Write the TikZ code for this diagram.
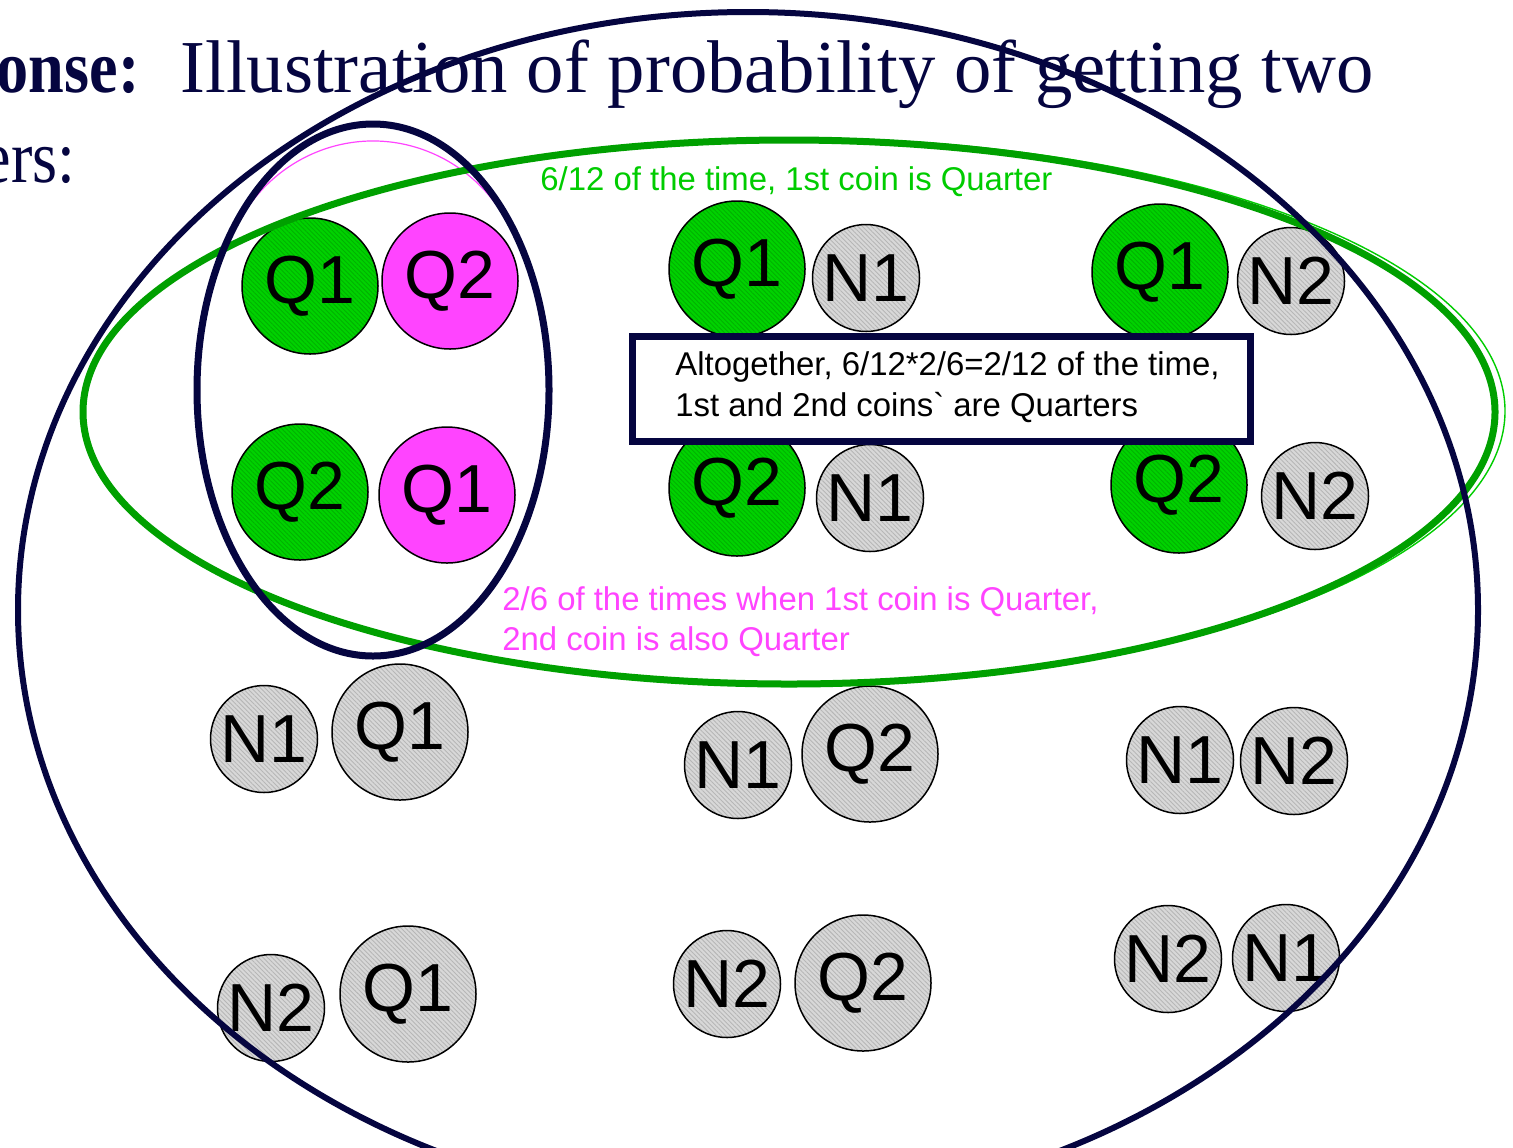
\documentclass[tikz,border=0pt]{standalone}
\usepackage{fontspec}
\setmainfont{Liberation Serif}
\newfontfamily\sansT{Liberation Sans}
\usetikzlibrary{patterns.meta}
\definecolor{navy}{RGB}{5,5,64}
\definecolor{gEll}{RGB}{0,160,0}
\definecolor{gThin}{RGB}{0,205,0}
\definecolor{gTxt}{RGB}{0,204,0}
\definecolor{gCoin}{RGB}{0,210,0}
\definecolor{gHatch}{RGB}{0,178,0}
\definecolor{mag}{RGB}{255,68,255}
\definecolor{grCoin}{RGB}{216,216,216}
\definecolor{grHatch}{RGB}{182,182,182}
\begin{document}
\begin{tikzpicture}[x=0.5pt,y=-0.5pt,
  coin/.style={circle,draw=black,line width=0.75pt,inner sep=0pt,
    font=\sansT\fontsize{34}{34}\selectfont},
  qc/.style={coin,minimum size=68pt},
  nc/.style={coin,minimum size=53.5pt},
  gc/.style={preaction={fill=gCoin},pattern={Lines[angle=-45,distance=1.6pt,line width=0.45pt]},pattern color=gHatch},
  sc/.style={preaction={fill=grCoin},pattern={Lines[angle=-45,distance=1.6pt,line width=0.45pt]},pattern color=grHatch},
  mc/.style={fill=mag},
  title/.style={inner sep=0pt,text=navy,font=\fontsize{37.35}{44}\selectfont},
  lbl/.style={inner sep=0pt,anchor=base west,font=\sansT\fontsize{16.45}{20}\selectfont}]
\fill[white] (0,0) rectangle (1513,1147);
\clip (0,0) rectangle (1513,1147);
% title
\node[title,anchor=base east,font=\fontsize{37.35}{44}\selectfont\bfseries] (t1) at (140,92) {\scalebox{0.86}[1]{onse:}};
\node[title,anchor=base west] (t2) at (180,92) {Illustration of probability of getting two};
\node[title,anchor=base east] (t3) at (76,182) {\scalebox{0.86}[1]{ers:}};
% coins row 1
\node[qc,gc] (a1) at (310,286) {Q1};
\node[qc,mc] (a2) at (450,281) {Q2};
\node[qc,gc] (b1) at (737,269) {Q1};
\node[nc,sc] (b2) at (866,278) {N1};
\node[qc,gc] (c1) at (1160,272) {Q1};
\node[nc,sc] (c2) at (1291,281) {N2};
% row 2
\node[qc,gc] (d1) at (300,492) {Q2};
\node[qc,mc] (d2) at (447,495) {Q1};
\node[qc,gc] (e1) at (737,488) {Q2};
\node[nc,sc] (e2) at (870,498) {N1};
\node[qc,gc] (f1) at (1179,485) {Q2};
\node[nc,sc] (f2) at (1315,496) {N2};
% row 3
\node[nc,sc] (g1) at (264,739) {N1};
\node[qc,sc] (g2) at (400,732) {Q1};
\node[nc,sc] (h1) at (738,765) {N1};
\node[qc,sc] (h2) at (870,754) {Q2};
\node[nc,sc] (i1) at (1180,760) {N1};
\node[nc,sc] (i2) at (1294,761) {N2};
% row 4
\node[nc,sc] (j1) at (271,1008) {N2};
\node[qc,sc] (j2) at (408,994) {Q1};
\node[nc,sc] (k1) at (727,984) {N2};
\node[qc,sc] (k2) at (863,983) {Q2};
\node[nc,sc] (l1) at (1168,959) {N2};
\node[nc,sc] (l2) at (1286,958) {N1};
% magenta arc
\coordinate (magc) at (373,300);
\draw[mag,line width=0.6pt] (magc) ++(-158:154 and 159) arc[start angle=-158,end angle=-24,x radius=154,y radius=159];
% green ellipses
\draw[gThin,line width=0.7pt] (794,411) ellipse[x radius=711,y radius=273];
\draw[gEll,line width=3.5pt] (789,412) ellipse[x radius=706,y radius=272];
% navy ellipses
\draw[navy,line width=3pt] (748,610) ellipse[x radius=730,y radius=598];
\draw[navy,line width=3.5pt] (373,390) ellipse[x radius=176,y radius=266];
% box
\node[draw=navy,line width=3.5pt,fill=white,minimum width=309pt,minimum height=52.5pt,inner sep=0pt] (box) at (941,388.5) {};
\node[lbl] (bt1) at (675,375) {Altogether, 6/12*2/6=2/12 of the time,};
\node[lbl] (bt2) at (675,416) {1st and 2nd coins\textasciigrave\ are Quarters};
% labels
\node[lbl,text=gTxt] (gl) at (540,190) {6/12 of the time, 1st coin is Quarter};
\node[lbl,text=mag] (ml1) at (502,610) {2/6 of the times when 1st coin is Quarter,};
\node[lbl,text=mag] (ml2) at (502,650) {2nd coin is also Quarter};
\end{tikzpicture}
\end{document}
